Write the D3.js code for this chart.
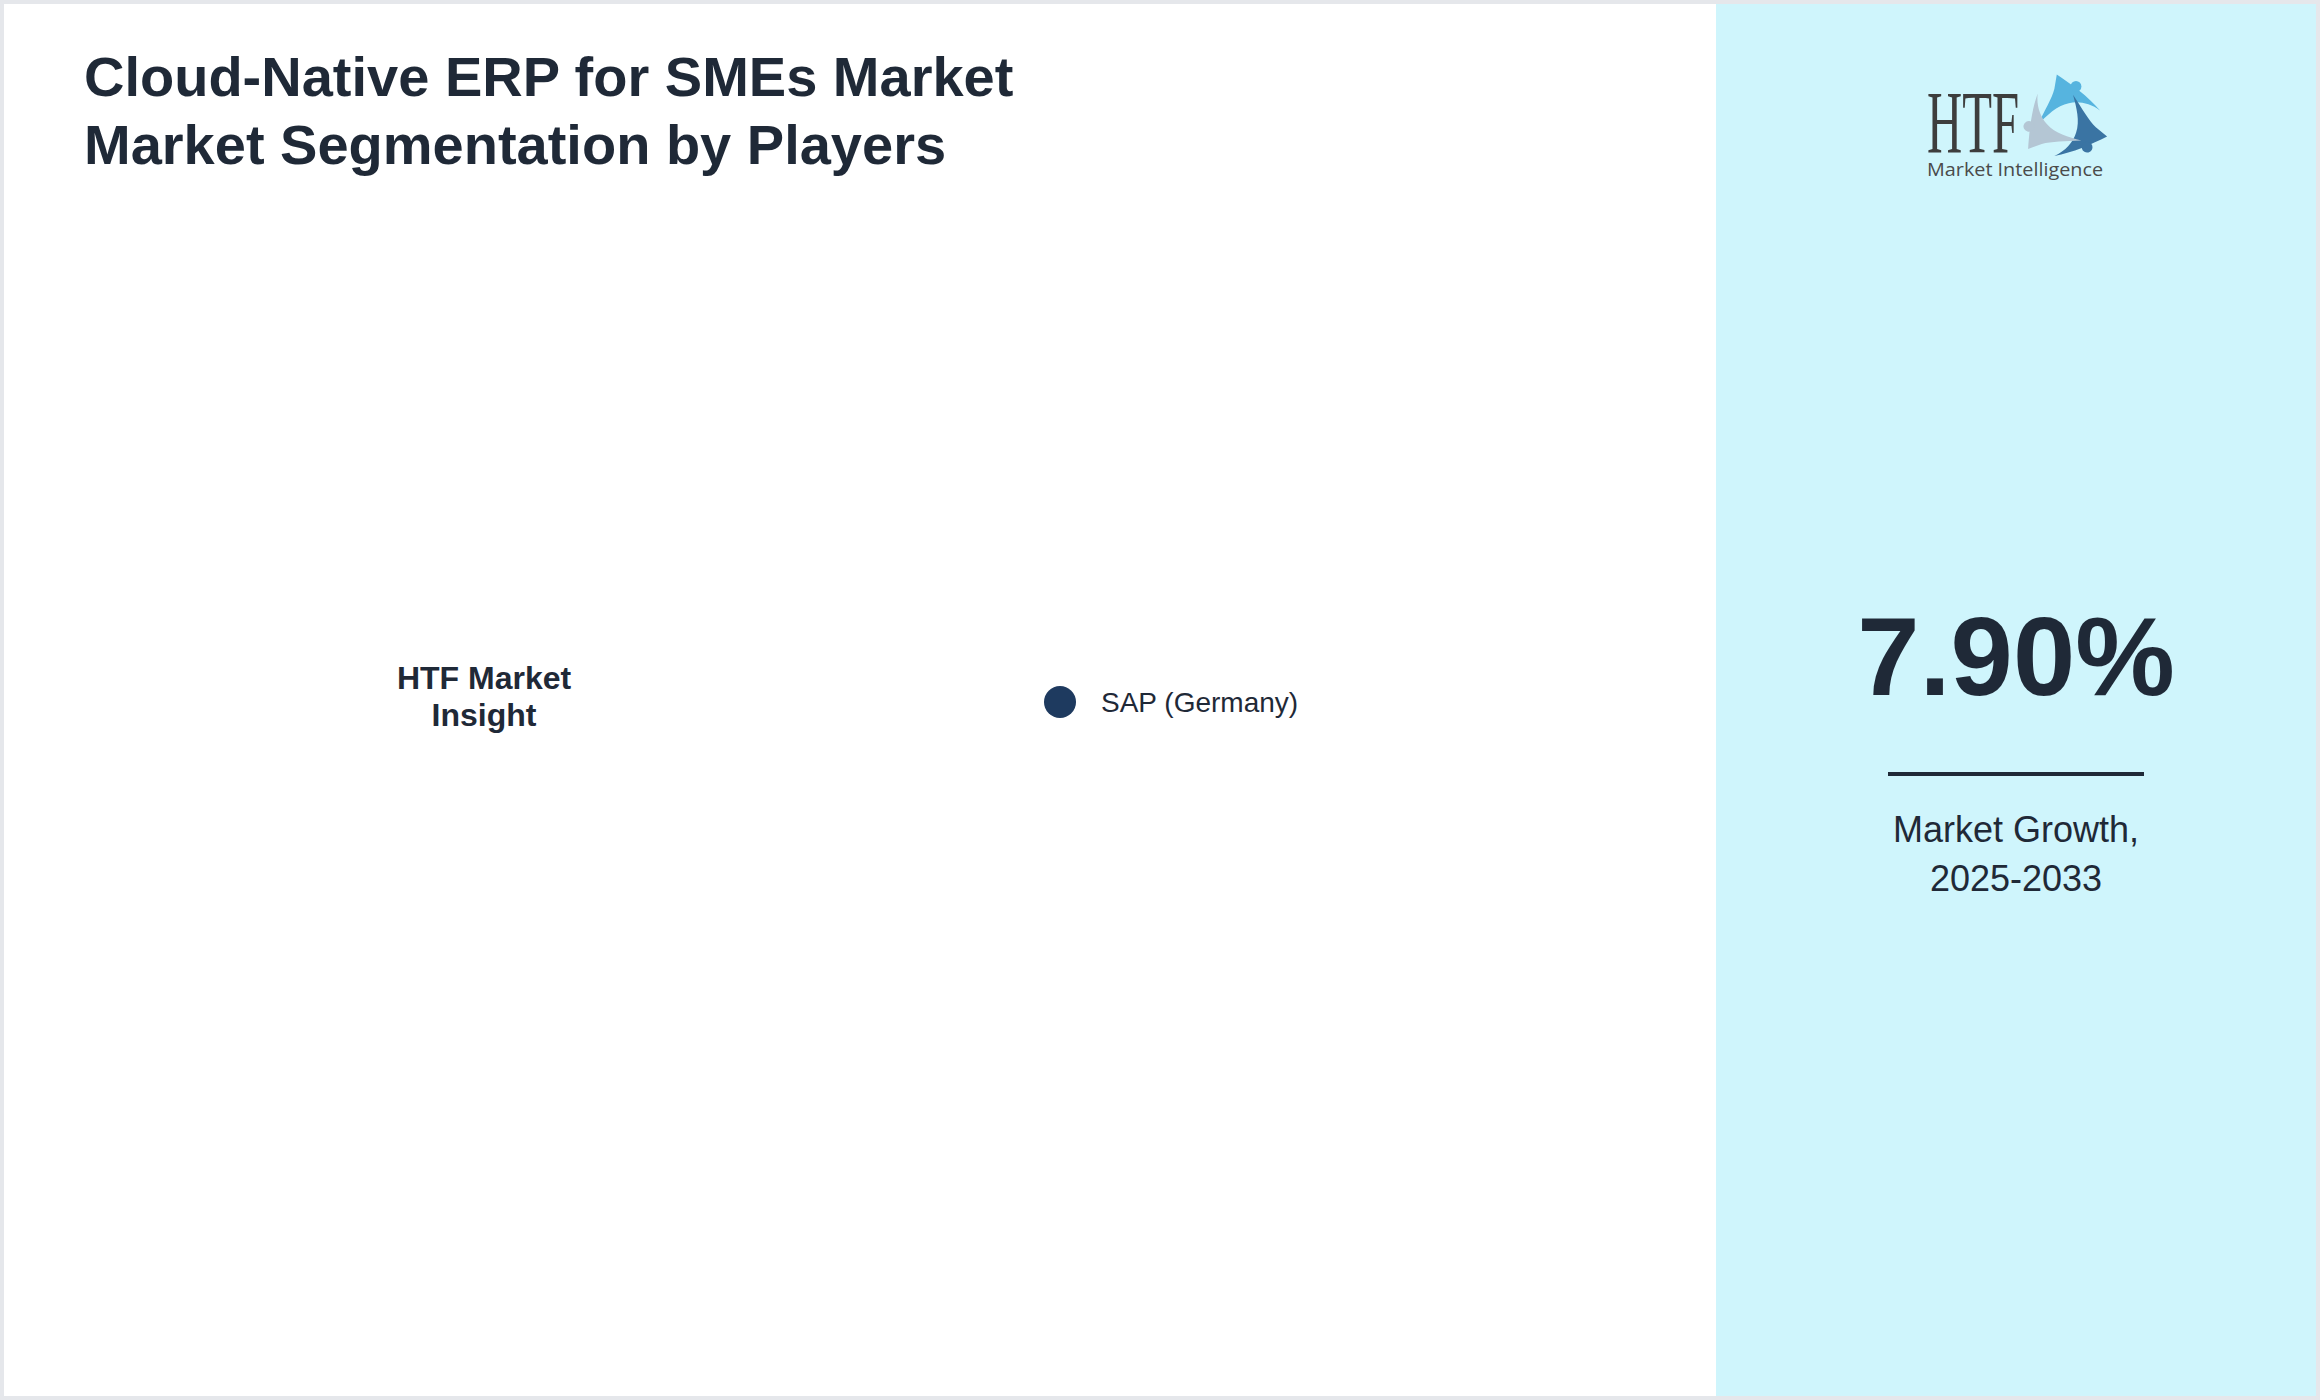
<!DOCTYPE html>
<html><head><meta charset="utf-8">
<script src="https://cdn.jsdelivr.net/npm/d3@7"></script>
<style>html,body{margin:0;padding:0;background:#fff;} svg{display:block}</style>
</head><body><svg id="c" width="2320" height="1400"></svg>
<script>
// ---- data ----
const titleLines = ["Cloud-Native ERP for SMEs Market", "Market Segmentation by Players"];
const players = ["SAP (Germany)"];
const shares = [0];
const playerColors = ["#1e3a5f"];
const centerLabel = ["HTF Market", "Insight"];
const growthValue = "7.90%";
const growthLabel = ["Market Growth,", "2025-2033"];
const logoWord = "HTF";
const logoSub = "Market Intelligence";

// ---- layout ----
const W = 2320, H = 1400, B = 4, panelX = 1716;
const ink = "#1f2937";
const svg = d3.select("#c");

svg.append("rect").attr("x", 0).attr("y", 0).attr("width", W).attr("height", H).attr("fill", "#e5e7eb");
svg.append("rect").attr("x", B).attr("y", B).attr("width", W - 2 * B).attr("height", H - 2 * B).attr("fill", "#ffffff");
svg.append("rect").attr("x", panelX).attr("y", B).attr("width", W - B - panelX).attr("height", H - 2 * B).attr("fill", "#cff5fc");

// title
const title = svg.append("text").attr("x", 84).attr("y", 96)
  .attr("font-family", "Liberation Sans, Arial, sans-serif").attr("font-weight", "bold")
  .attr("font-size", 56).attr("fill", ink);
title.selectAll("tspan").data(titleLines).join("tspan")
  .attr("x", 84).attr("dy", (d, i) => i === 0 ? 0 : 68).text(d => d);

// donut
const cx = 484, cy = 702;
const g = svg.append("g").attr("transform", `translate(${cx},${cy})`);
const pie = d3.pie().sort(null)(shares);
const arc = d3.arc().innerRadius(220).outerRadius(330);
const color = d3.scaleOrdinal().domain(players).range(playerColors);
g.selectAll("path.slice").data(pie).join("path").attr("class", "slice")
  .attr("d", arc).attr("fill", (d, i) => color(players[i]));

const cl = g.append("text").attr("text-anchor", "middle")
  .attr("font-family", "Liberation Sans, Arial, sans-serif").attr("font-weight", "bold")
  .attr("font-size", 32).attr("fill", ink);
cl.selectAll("tspan").data(centerLabel).join("tspan")
  .attr("x", 0).attr("y", (d, i) => -13 + i * 37).text(d => d);

// legend
const ly = d3.scaleBand().domain(players).range([cy - 16, cy + 16]);
const leg = svg.append("g").selectAll("g").data(players).join("g")
  .attr("transform", d => `translate(1060,${ly(d) + ly.bandwidth() / 2})`);
leg.append("circle").attr("r", 16).attr("fill", d => color(d));
leg.append("text").attr("x", 41).attr("y", 10)
  .attr("font-family", "Liberation Sans, Arial, sans-serif").attr("font-size", 28)
  .attr("fill", ink).text(d => d);

// right panel
const pc = (panelX + W - B) / 2;
svg.append("text").attr("x", pc).attr("y", 695).attr("text-anchor", "middle")
  .attr("font-family", "Liberation Sans, Arial, sans-serif").attr("font-weight", "bold")
  .attr("font-size", 112).attr("fill", ink).text(growthValue);
svg.append("rect").attr("x", pc - 128).attr("y", 772).attr("width", 256).attr("height", 4).attr("fill", ink);
const gl = svg.append("text").attr("text-anchor", "middle")
  .attr("font-family", "Liberation Sans, Arial, sans-serif").attr("font-size", 36).attr("fill", ink);
gl.selectAll("tspan").data(growthLabel).join("tspan")
  .attr("x", pc).attr("y", (d, i) => 842 + i * 49).text(d => d);

// logo
const logo = svg.append("g");
logo.append("text").attr("x", 1927).attr("y", 152)
  .attr("font-family", "Liberation Serif, Times New Roman, serif").attr("font-size", 88)
  .attr("textLength", 92).attr("lengthAdjust", "spacingAndGlyphs")
  .attr("fill", "#3d3d3d").text(logoWord);
logo.append("text").attr("x", 1927).attr("y", 176)
  .attr("font-family", "Open Sans, DejaVu Sans, sans-serif").attr("font-size", 19)
  .attr("textLength", 176).attr("lengthAdjust", "spacingAndGlyphs")
  .attr("fill", "#4a4a4a").text(logoSub);
const lc = logo.append("g").attr("transform", "translate(2064,120) scale(1.2)");
const swoosh = "M-6,-38 C6,-30 20,-20 30,-8 C22,-14 12,-16 4,-14 C-6,-12 -14,-4 -22,4 C-16,-8 -10,-18 -8,-26 Z";
[["#56b4df", 0, [10, -28]], ["#3a74a3", 120, [10, -28]], ["#b4c6d4", 240, [10, -28]]].forEach(([c, rot, h]) => {
  const s = lc.append("g").attr("transform", `rotate(${rot})`);
  s.append("path").attr("d", swoosh).attr("fill", c);
  s.append("circle").attr("cx", h[0]).attr("cy", h[1]).attr("r", 4.5).attr("fill", c);
});
</script></body></html>
